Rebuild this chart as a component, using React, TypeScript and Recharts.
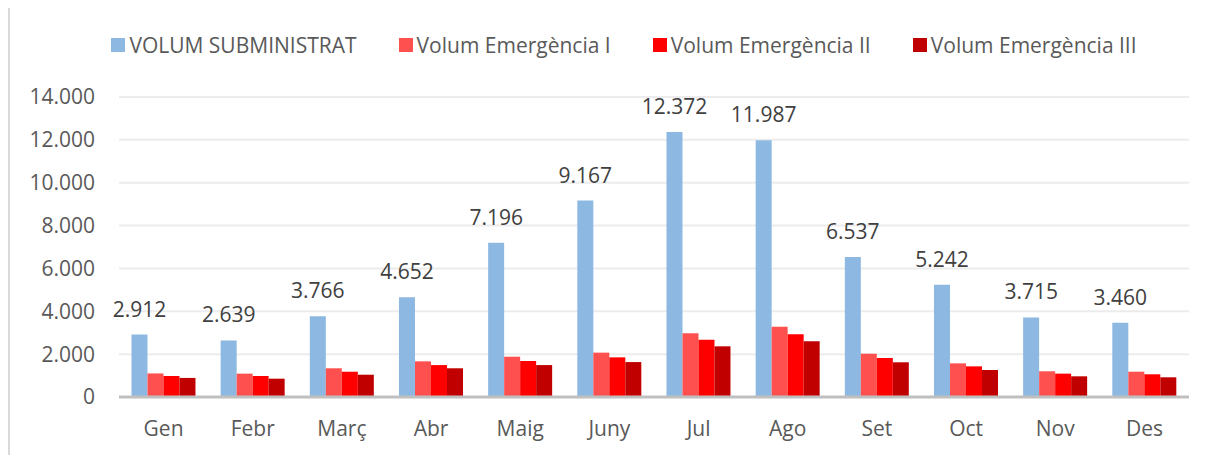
import { BarChart, Bar, XAxis, YAxis, CartesianGrid, Legend, LabelList } from "recharts"

const months = ["Gen", "Febr", "Març", "Abr", "Maig", "Juny", "Jul", "Ago", "Set", "Oct", "Nov", "Des"]
const subministrat = [2912, 2639, 3766, 4652, 7196, 9167, 12372, 11987, 6537, 5242, 3715, 3460]
const emergencia1 = [1100, 1090, 1340, 1665, 1880, 2070, 2970, 3280, 2020, 1570, 1200, 1180]
const emergencia2 = [980, 980, 1180, 1490, 1680, 1850, 2675, 2925, 1820, 1430, 1090, 1060]
const emergencia3 = [890, 855, 1040, 1340, 1490, 1630, 2365, 2600, 1620, 1260, 965, 920]
const yTicks = [0, 2000, 4000, 6000, 8000, 10000, 12000, 14000]

const seriesNames = ["VOLUM SUBMINISTRAT", "Volum Emergència I", "Volum Emergència II", "Volum Emergència III"]
const seriesColors = ["#8cb8e2", "#ff5050", "#ff0000", "#c00000"]

const data = months.map((m, i) => ({
  month: m,
  s0: subministrat[i],
  s1: emergencia1[i],
  s2: emergencia2[i],
  s3: emergencia3[i],
}))

const FONT = "'Open Sans', 'Liberation Sans', sans-serif"

const fmt = (v: number | string) =>
  String(v).replace(/\B(?=(\d{3})+(?!\d))/g, ".")

const LegendContent = () => (
  <div
    style={{
      display: "flex",
      justifyContent: "center",
      alignItems: "center",
      gap: 42,
      fontFamily: FONT,
      fontSize: 21,
      color: "#595959",
      height: 24,
      paddingLeft: 28,
      whiteSpace: "nowrap",
    }}
  >
    {seriesNames.map((name, i) => (
      <div key={name} style={{ display: "flex", alignItems: "center", gap: 4 }}>
        <span style={{ display: "inline-block", width: 14, height: 14, background: seriesColors[i] }} />
        <span>{name}</span>
      </div>
    ))}
  </div>
)

export default function App() {
  return (
    <div
      style={{
        marginTop: -2,
        width: 1300,
        height: 500,
        borderTop: "2px solid #d9d9d9",
        borderLeft: "2px solid #d9d9d9",
        background: "#fff",
      }}
    >
      <BarChart
        width={1200}
        height={447}
        data={data}
        margin={{ top: 65, right: 21, bottom: 0, left: 0 }}
        barCategoryGap="14%"
        barGap={0}
      >
        <CartesianGrid vertical={false} stroke="#ececec" strokeWidth={2} />
        <Legend
          verticalAlign="top"
          content={<LegendContent />}
          wrapperStyle={{ top: 25, left: 0, width: 1200, height: 24 }}
        />
        <XAxis
          dataKey="month"
          axisLine={{ stroke: "#bfbfbf", strokeWidth: 3 }}
          tickLine={false}
          tickSize={0}
          tickMargin={24}
          height={58}
          tick={{ fill: "#595959", fontSize: 21, fontFamily: FONT }}
        />
        <YAxis
          domain={[0, 14000]}
          ticks={yTicks}
          interval={0}
          width={109}
          axisLine={false}
          tickLine={false}
          tickSize={0}
          tickMargin={24}
          tickFormatter={fmt}
          tick={{ fill: "#595959", fontSize: 21, fontFamily: FONT }}
        />
        {["s0", "s1", "s2", "s3"].map((key, i) => (
          <Bar key={key} dataKey={key} name={seriesNames[i]} fill={seriesColors[i]} isAnimationActive={false}>
            {i === 0 && (
              <LabelList
                dataKey="s0"
                position="top"
                offset={18}
                formatter={fmt}
                style={{ fill: "#404040", fontSize: 21, fontFamily: FONT }}
              />
            )}
          </Bar>
        ))}
      </BarChart>
    </div>
  )
}
